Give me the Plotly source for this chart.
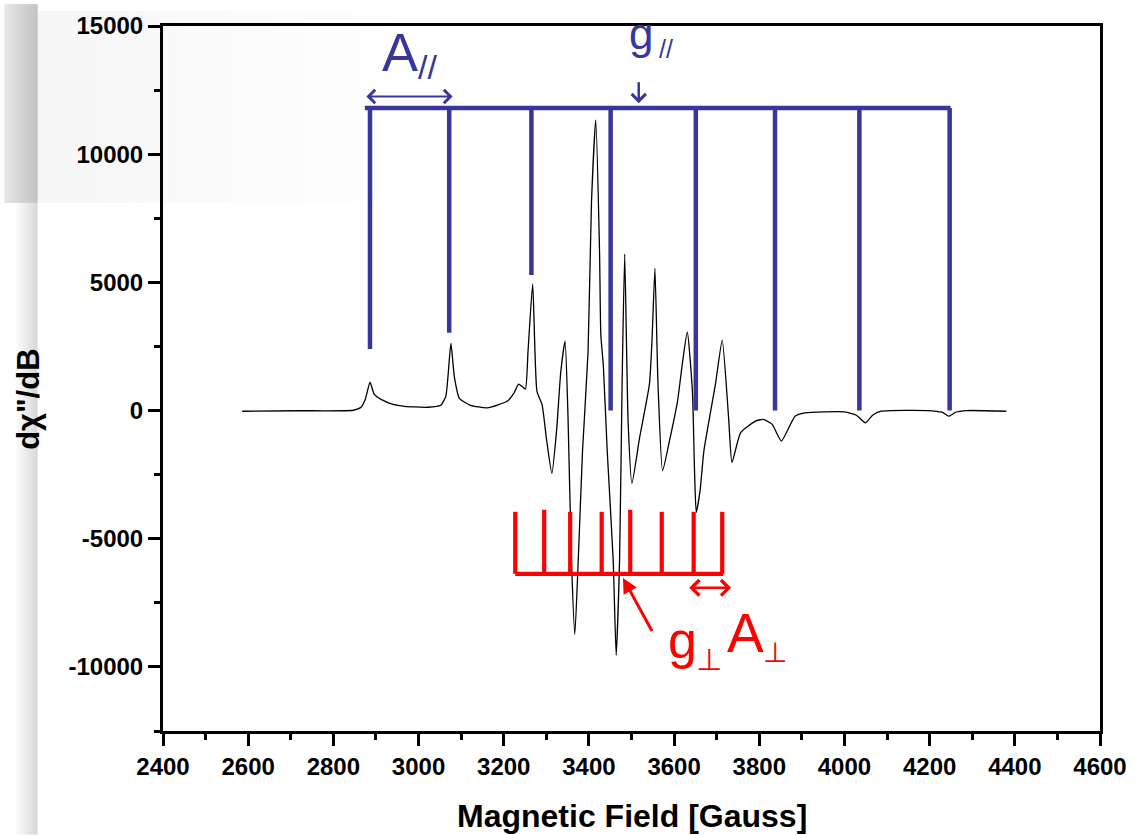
import plotly.graph_objects as go

# ---------------- data ----------------
field = [2586, 2719, 2847, 2865, 2875, 2886, 2896, 2912, 2940, 2968, 3022, 3052, 3064, 3076,
         3084, 3096, 3122, 3161, 3208, 3224, 3235, 3243, 3251, 3257, 3268, 3278, 3290, 3301,
         3313, 3324, 3334, 3344, 3351, 3359, 3367, 3375, 3385, 3398, 3406, 3416, 3425, 3428,
         3434, 3443, 3457, 3464, 3472, 3478, 3484, 3492, 3501, 3519, 3542, 3548, 3555, 3562,
         3573, 3589, 3608, 3620, 3631, 3643, 3648, 3652, 3661, 3670, 3697, 3713, 3728, 3736,
         3756, 3791, 3809, 3830, 3852, 3884, 3907, 4000, 4028, 4049, 4066, 4086, 4194, 4229,
         4245, 4261, 4287, 4380]
signal = [-27, -8, 12, 128, 437, 1107, 631, 437, 244, 166, 128, 205, 553, 2616,
          1327, 476, 205, 108, 360, 681, 1029, 940, 836, 2295, 4938, 747, 232, -1188,
          -2454, -801, 1521, 2709, -286, -5832, -8735, -5832, -1575, 2295, 8100, 11324, 6166, 2953,
          1715, -1575, -5832, -9547, -5832, 1134, 6099, -414, -2841, -1060, 1018, 2682, 5546, 1134,
          -2349, -1188, 360, 1908, 3069, 747, -2350, -3974, -3123, -1575, 1018, 2748, -286, -2028,
          -867, -414, -348, -530, -1188, -221, -93, -54, -182, -480, -182, -27, 0, -66,
          -221, -66, 0, -27]

# parallel (g//) hyperfine comb
par_lines = [2886, 3072, 3265, 3451, 3651, 3837, 4035, 4247]
par_bottoms = [2400, 3030, 5290, 0, 0, 0, 0, 0]
par_bar = 11800
par_bar_span = [2874, 4249]

# perpendicular hyperfine comb
perp_lines = [3227, 3295, 3356, 3430, 3497, 3571, 3646, 3713]
perp_tops = [-3950, -3870, -3950, -3950, -3870, -3950, -3950, -3950]
perp_bar = -6370
perp_bar_span = [3227, 3715]

x_tickvals = [2400, 2600, 2800, 3000, 3200, 3400, 3600, 3800, 4000, 4200, 4400, 4600]
x_ticktext = ["2400", "2600", "2800", "3000", "3200", "3400", "3600", "3800", "4000", "4200", "4400", "4600"]
y_tickvals = [-10000, -5000, 0, 5000, 10000, 15000]
y_ticktext = ["-10000", "-5000", "0", "5000", "10000", "15000"]

BLUE = "rgb(54,54,158)"
RED = "#ff0000"
FONT = "Liberation Sans, Arial, DejaVu Sans, sans-serif"

# ---------------- figure ----------------
fig = go.Figure()

fig.add_trace(go.Scatter(x=field, y=signal, mode="lines",
                         line=dict(color="black", width=1.3, shape="spline", smoothing=0.5),
                         showlegend=False, hoverinfo="skip"))

# blue comb
bx, by = [par_bar_span[0], par_bar_span[1], None], [par_bar, par_bar, None]
for xv, yb in zip(par_lines, par_bottoms):
    bx += [xv, xv, None]
    by += [par_bar, yb, None]
fig.add_trace(go.Scatter(x=bx, y=by, mode="lines", line=dict(color=BLUE, width=4.5),
                         showlegend=False, hoverinfo="skip"))

# red comb
rx, ry = [perp_bar_span[0], perp_bar_span[1], None], [perp_bar, perp_bar, None]
for xv, yt in zip(perp_lines, perp_tops):
    rx += [xv, xv, None]
    ry += [yt, perp_bar, None]
fig.add_trace(go.Scatter(x=rx, y=ry, mode="lines", line=dict(color=RED, width=4.2),
                         showlegend=False, hoverinfo="skip"))


def label(text, x, y, size, color, ref="data", **kw):
    d = dict(text=text, x=x, y=y, showarrow=False,
             font=dict(family=FONT, size=size, color=color),
             xanchor="center", yanchor="middle")
    if ref == "data":
        d.update(xref="x", yref="y")
    else:
        d.update(xref="paper", yref="paper")
    d.update(kw)
    return d


def arrow(xt, yt, xa, ya, color, width, size, head, both=False):
    return dict(x=xt, y=yt, ax=xa, ay=ya, xref="x", yref="y", axref="x", ayref="y",
                text="", showarrow=True, arrowhead=head, startarrowhead=head,
                arrowsize=size, startarrowsize=size, arrowwidth=width, arrowcolor=color,
                arrowside="end+start" if both else "end")


annotations = [
    # blue labels
    label("A", 2956, 13971, 54, BLUE),
    label("//", 3022, 13384, 34, BLUE),
    label("g", 3522, 14695, 44, BLUE),
    label("//", 3582, 14102, 25, BLUE),
    arrow(3080, 12252, 2874, 12252, BLUE, 2, 1.3, 4, both=True),
    arrow(3517, 11990, 3517, 12860, BLUE, 2.5, 1.1, 4),
    # red labels
    label("g", 3620, -8967, 52, RED),
    label("⊥", 3683, -9700, 30, RED),
    label("A", 3767, -8696, 55, RED),
    label("⊥", 3837, -9420, 28, RED),
    arrow(3734, -6916, 3632, -6916, RED, 2.5, 1.2, 4, both=True),
    arrow(3480, -6529, 3550, -8657, RED, 3, 1.0, 2),
    # axis titles
    label("Magnetic Field [Gauss]", 0.5, -0.1199, 32, "black", ref="paper"),
    label('dχ"/dB', -0.143, 0.4697, 31, "black", ref="paper", textangle=-90),
]
for a in annotations:
    if a["text"] in ("Magnetic Field [Gauss]", 'dχ"/dB'):
        a["font"]["weight"] = "bold"

# ---------------- slide-like background gradient ----------------
L, T, W, H = 163, 22, 945, 709


def px2paper(px, py):
    return (px - L) / W, (T + H - py) / H


def band(x0, x1, y0, y1, c0, c1, n):
    out = []
    for i in range(n):
        t = i / max(n - 1, 1)
        c = [round(c0[k] + (c1[k] - c0[k]) * t) for k in range(3)]
        xa, ya = px2paper(x0 + (x1 - x0) * i / n, y1)
        xb, yb = px2paper(x0 + (x1 - x0) * (i + 1) / n + 0.6, y0)
        out.append(dict(type="rect", xref="paper", yref="paper", x0=xa, x1=xb, y0=ya, y1=yb,
                        fillcolor=f"rgb({c[0]},{c[1]},{c[2]})", line=dict(width=0), layer="below"))
    return out


shapes = []
shapes += band(36, 420, 7, 200, (246, 246, 246), (255, 255, 255), 24)
shapes += band(3, 36, 0, 200, (230, 230, 230), (196, 196, 196), 16)
shapes += band(12, 36, 200, 835, (255, 255, 255), (218, 218, 218), 12)

fig.update_layout(
    width=1139, height=835,
    margin=dict(l=L, r=1139 - L - W, t=T, b=835 - T - H),
    paper_bgcolor="white", plot_bgcolor="rgba(0,0,0,0)",
    showlegend=False,
    annotations=annotations,
    shapes=shapes,
    font=dict(family=FONT, color="black"),
)

axis_common = dict(showline=True, linewidth=3, linecolor="black", mirror=True,
                   ticks="outside", ticklen=12, tickwidth=3, tickcolor="black",
                   showgrid=False, zeroline=False,
                   tickfont=dict(family=FONT, size=24, color="black", weight="bold"))

fig.update_xaxes(range=[2400, 4600], tickmode="array", tickvals=x_tickvals, ticktext=x_ticktext,
                 minor=dict(ticks="outside", ticklen=6, tickwidth=3, tickcolor="black",
                            tickmode="linear", tick0=2400, dtick=100),
                 **axis_common)
fig.update_yaxes(range=[-12500, 15000], tickmode="array", tickvals=y_tickvals, ticktext=y_ticktext,
                 minor=dict(ticks="outside", ticklen=6, tickwidth=3, tickcolor="black",
                            tickmode="linear", tick0=0, dtick=2500),
                 **axis_common)

fig.write_html("out.html")
